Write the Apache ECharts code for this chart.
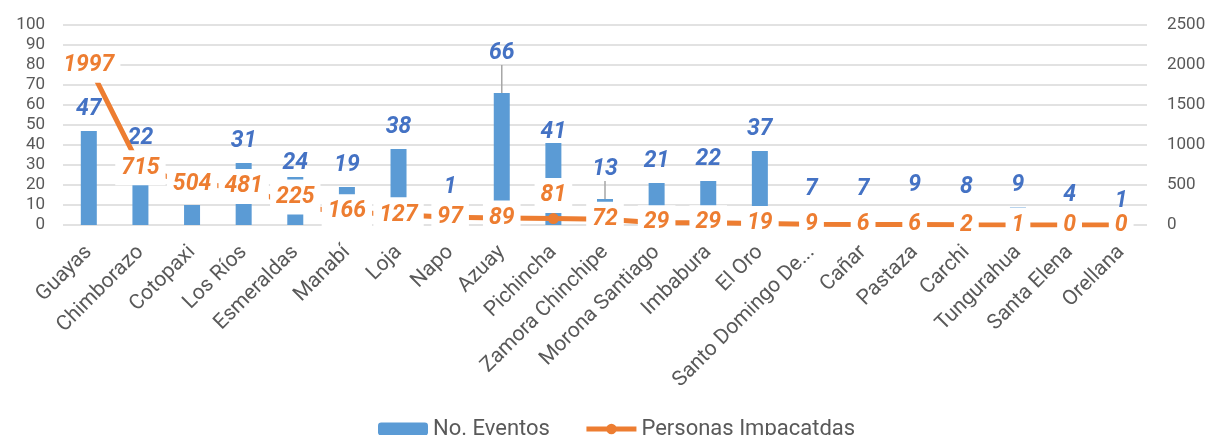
<!DOCTYPE html>
<html>
<head>
<meta charset="utf-8">
<script src="https://cdn.jsdelivr.net/npm/echarts@6/dist/echarts.min.js"></script>
<style>
html,body{margin:0;padding:0;background:#fff;}
#chart{width:1210px;height:435px;}
</style>
</head>
<body>
<div id="chart"></div>
<script>
const categories = ["Guayas","Chimborazo","Cotopaxi","Los Ríos","Esmeraldas","Manabí","Loja","Napo","Azuay","Pichincha","Zamora Chinchipe","Morona Santiago","Imbabura","El Oro","Santo Domingo De...","Cañar","Pastaza","Carchi","Tungurahua","Santa Elena","Orellana"];
const eventos = [47,22,10,31,24,19,38,1,66,41,13,21,22,37,7,7,9,8,9,4,1];
const personas = [1997,715,504,481,225,166,127,97,89,81,72,29,29,19,9,6,6,2,1,0,0];
const leftTicks = {min:0,max:100,interval:10};
const rightTicks = {min:0,max:2500,interval:500};

// label position tweaks (layout only)
const barLabelDy = {1:-21, 4:8, 7:-14, 8:-18, 9:11, 10:-8};
const barLabelLine = {8:true, 10:true};
const lineLabelDy = {4:-10, 9:-23};
const markerIndex = 9;

const FONT = 'Roboto';
const chart = echarts.init(document.getElementById('chart'), null, {renderer:'canvas'});

const barData = eventos.map((v,i)=> barLabelLine[i] ? {value:v, labelLine:{show:true, lineStyle:{color:'#a6a6a6', width:1.5}}} : v);
const lineData = personas.map((v,i)=> lineLabelDy[i] ? {value:v, label:{offset:[0,lineLabelDy[i]]}} : v);

chart.setOption({
  animation:false,
  textStyle:{fontFamily:FONT},
  grid:{left:63,right:63,top:25,bottom:210},
  legend:{
    top:413,left:373,
    itemWidth:50,itemHeight:13,itemGap:34,
    textStyle:{fontSize:22,color:'#595959',fontFamily:FONT},
    lineStyle:{width:5},
    data:['No. Eventos','Personas Impacatdas']
  },
  xAxis:{
    type:'category',data:categories,
    axisTick:{show:false},
    axisLine:{show:false},
    axisLabel:{rotate:45,interval:0,margin:24,fontSize:21,color:'#595959',fontFamily:FONT}
  },
  yAxis:[
    {type:'value',min:leftTicks.min,max:leftTicks.max,interval:leftTicks.interval,
     axisLine:{show:false},axisTick:{show:false},
     axisLabel:{fontSize:17,color:'#595959',margin:18,fontFamily:FONT},
     splitLine:{lineStyle:{color:'#d9d9d9',width:1.5}}},
    {type:'value',min:rightTicks.min,max:rightTicks.max,interval:rightTicks.interval,
     axisLine:{show:false},axisTick:{show:false},
     axisLabel:{fontSize:17,color:'#595959',margin:20,fontFamily:FONT,formatter:function(v){return String(v);}},
     splitLine:{show:false}}
  ],
  series:[
    {
      name:'No. Eventos',type:'bar',yAxisIndex:0,data:barData,
      barWidth:16,z:2,
      itemStyle:{color:'#5b9bd5'},
      label:{show:true,position:'top',distance:10,fontSize:23,fontStyle:'italic',fontWeight:'bold',color:'#4472c4',fontFamily:FONT},
      labelLayout:function(p){ const d = barLabelDy[p.dataIndex]; return d ? {dy:d} : {}; }
    },
    {
      name:'Personas Impacatdas',type:'line',yAxisIndex:1,data:lineData,
      z:3,
      symbol:'circle',
      symbolSize:function(v,p){ return p.dataIndex===markerIndex ? 11 : 2; },
      itemStyle:{color:'#ed7d31'},
      lineStyle:{color:'#ed7d31',width:5},
      label:{show:true,position:'inside',fontSize:23,fontStyle:'italic',fontWeight:'bold',color:'#ed7d31',
        backgroundColor:'#fff',padding:[6,6],fontFamily:FONT}
    }
  ]
});
</script>
</body>
</html>
